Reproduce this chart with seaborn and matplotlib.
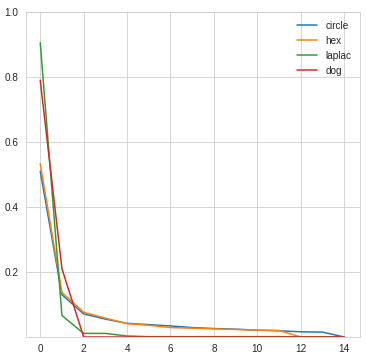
import matplotlib
matplotlib.use("Agg")
import matplotlib.pyplot as plt
import seaborn as sns
import pandas as pd
import numpy as np

steps = list(range(15))
circle = [0.51, 0.13, 0.071, 0.055, 0.042, 0.038, 0.034, 0.029, 0.026, 0.024, 0.021, 0.019, 0.016, 0.015, 0.0]
hex_ = [0.533, 0.137, 0.076, 0.058, 0.041, 0.036, 0.029, 0.027, 0.025, 0.023, 0.021, 0.020, 0.0, 0.0, 0.0]
laplac = [0.905, 0.066, 0.011, 0.011, 0.003, 0.001, 0.001, 0.001, 0.001, 0.001, 0.001, 0.001, 0.0, 0.0, 0.0]
dog = [0.79, 0.21, 0.0, 0.0, 0.0, 0.0, 0.0, 0.0, 0.0, 0.0, 0.0, 0.0, 0.0, 0.0, 0.0]
names = ["circle", "hex", "laplac", "dog"]

df = pd.DataFrame({
    "step": steps * 4,
    "value": circle + hex_ + laplac + dog,
    "kind": sum([[n] * len(steps) for n in names], []),
})

sns.set_style("whitegrid")
plt.rcParams["font.family"] = ["Liberation Sans", "DejaVu Sans"]

fig = plt.figure(figsize=(366 / 72, 358 / 72), dpi=72)
ax = fig.add_axes([0.0702, 0.0587, 0.914, 0.908])
sns.lineplot(data=df, x="step", y="value", hue="kind", hue_order=names,
             palette="tab10", ax=ax, linewidth=1.5)
ax.set_xlim(-0.67, 14.74)
ax.set_ylim(0.0, 1.0)
ax.set_yticks([0.2, 0.4, 0.6, 0.8, 1.0])
ax.set_xticks([0, 2, 4, 6, 8, 10, 12, 14])
ax.tick_params(labelsize=10, colors=".15")
ax.set_xlabel("")
ax.set_ylabel("")
leg = ax.legend(loc="upper right", frameon=False, fontsize=10)
fig.savefig("out.png", dpi=72)
